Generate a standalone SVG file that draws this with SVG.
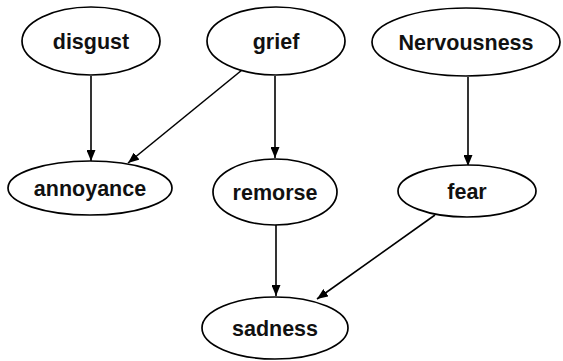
<svg xmlns="http://www.w3.org/2000/svg" width="563" height="361" viewBox="0 0 563 361">
<style>
.n ellipse{fill:#fff;stroke:#000;stroke-width:1.7}
.n text{font-family:"Liberation Sans",Arial,sans-serif;font-weight:700;font-size:21.5px;fill:#111;text-anchor:middle}
.e line{stroke:#000;stroke-width:1.6;marker-end:url(#ah)}
</style>
<defs>
<marker id="ah" viewBox="0 0 11 9" refX="11" refY="4.5" markerWidth="11" markerHeight="9" markerUnits="userSpaceOnUse" orient="auto">
<path d="M0,0 L11,4.5 L0,9 Z" fill="#000"/>
</marker>
</defs>
<rect width="563" height="361" fill="#fff"/>
<g id="edges" class="e">
<line x1="91" y1="76" x2="91" y2="161"/>
<line x1="242" y1="70" x2="128" y2="163"/>
<line x1="275" y1="76" x2="275" y2="158"/>
<line x1="468" y1="77" x2="468" y2="166"/>
<line x1="276" y1="225" x2="276" y2="296"/>
<line x1="435" y1="215" x2="317" y2="299"/>
</g>
<g id="disgust" class="n"><ellipse cx="91" cy="41" rx="69" ry="34"/><text x="91" y="48.5">disgust</text></g>
<g id="grief" class="n"><ellipse cx="276" cy="41" rx="69" ry="34"/><text x="276" y="48.5">grief</text></g>
<g id="nervousness" class="n"><ellipse cx="466" cy="42" rx="94" ry="34"/><text x="466" y="49.5">Nervousness</text></g>
<g id="annoyance" class="n"><ellipse cx="90" cy="188" rx="82" ry="27"/><text x="90" y="195.5">annoyance</text></g>
<g id="remorse" class="n"><ellipse cx="275" cy="192" rx="62" ry="33"/><text x="275" y="199.5">remorse</text></g>
<g id="fear" class="n"><ellipse cx="467" cy="191" rx="69" ry="26"/><text x="467" y="198.5">fear</text></g>
<g id="sadness" class="n"><ellipse cx="275" cy="328" rx="73" ry="31"/><text x="275" y="335.5">sadness</text></g>
</svg>
